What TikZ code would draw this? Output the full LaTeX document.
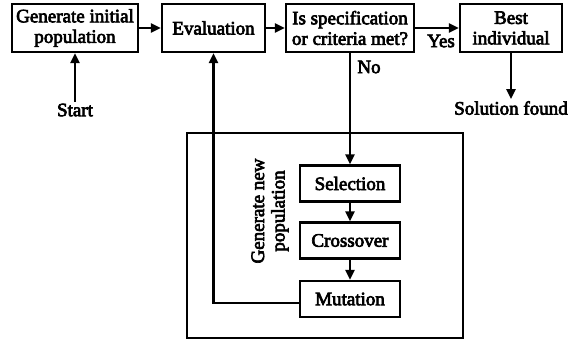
\documentclass[tikz,border=0pt]{standalone}
\usepackage{fontspec}
\setmainfont{Liberation Serif}[FakeBold=3.5]
\usetikzlibrary{arrows.meta,positioning}

\begin{document}
\begin{tikzpicture}[
        x=1pt, y=-1pt,
        font=\fontsize{19}{20.5}\selectfont,
        >={Triangle[length=10pt,width=9pt]},
        line width=2.2pt,
        block/.style={
            rectangle,
            draw,
            align=center,
            inner xsep=3pt,
            minimum width=100pt,
            minimum height=48pt,
        },
        op/.style={
            block,
            minimum height=36pt,
        },
        group/.style={
            rectangle,
            draw,
            minimum width=276pt,
            minimum height=205pt,
        },
        mylabel/.style={
            inner sep=1pt,
        },
        ArrowC1/.style={
            ->,
            line width=2.2pt,
        },
    ]

    % Canvas
    \useasboundingbox (0,0) rectangle (570,341);

    % Draw main steps named as basis gen, eval, spec, best
    \node [block, minimum width=126pt] (gen) at (75,28) {Generate initial\\population};
    \node [block, minimum width=103pt] (eval) at (213.5,28) {Evaluation};
    \node [block, minimum width=128pt] (spec) at (350,28) {Is specification\\or criteria met?};
    \node [block, minimum width=102pt] (best) at (511,28) {Best\\individual};

    % Draw the box of the new population and its steps
    \node [group] (newpop) at (325,235.5) {};
    \node [op] (sel) at (350,183.5) {Selection};
    \node [op] (cross) at (350,240.5) {Crossover};
    \node [op] (mut) at (350,299) {Mutation};
    \node [rotate=90, align=center] (gnp) at (270,211) {Generate new\\population};

    % Free texts
    \node [mylabel] (start) at (75,110) {Start};
    \node [mylabel] (sol) at (511,108) {Solution found};
    \node [mylabel] (yes) at (441,41) {Yes};
    \node [mylabel] (no) at (369,67) {No};

% Start connecting all.
    \draw [ArrowC1] (start) -- (gen);
    \draw [ArrowC1] (gen) -- (eval);
    \draw [ArrowC1] (eval) -- (spec);
    \draw [ArrowC1] (spec) -- (best);
    \draw [ArrowC1] (best) -- (sol);

    % Loop
    \draw [ArrowC1] (spec) -- (sel);
    \draw [ArrowC1] (sel) -- (cross);
    \draw [ArrowC1] (cross) -- (mut);
    \draw [ArrowC1] ([yshift=-4pt]mut.west) -| (eval.south);

\end{tikzpicture}
\end{document}
